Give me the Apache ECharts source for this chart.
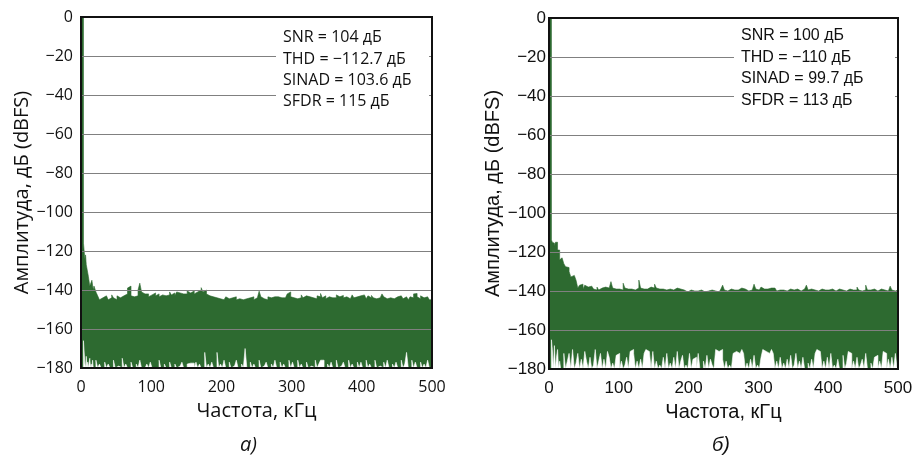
<!DOCTYPE html>
<html><head><meta charset="utf-8">
<script src="https://cdn.jsdelivr.net/npm/echarts@6/dist/echarts.min.js"></script>
<style>html,body{margin:0;padding:0;background:#fff}#c{width:918px;height:460px}</style>
</head><body><div id="c"></div>
<script>
// ---------- data ----------
const yTicks = [0, -20, -40, -60, -80, -100, -120, -140, -160, -180];
const xTicks = [0, 100, 200, 300, 400, 500];
const yName = 'Амплитуда, дБ (dBFS)';
const xName = 'Частота, кГц';
const captions = ['а)', 'б)'];
const notesA = ['SNR = 104 дБ', 'THD = \u2212112.7 дБ', 'SINAD = 103.6 дБ', 'SFDR = 115 дБ'];
const notesB = ['SNR = 100 дБ', 'THD = \u2212110 дБ', 'SINAD = 99.7 дБ', 'SFDR = 113 дБ'];

// chart a) : head region (explicit frequencies, kHz)
const headFA   = [0, 1.5, 3, 4, 5, 6, 7, 8, 9, 10, 11, 12, 13, 14, 15, 16, 17, 18, 19];
const headTopA = [0, 0, 0, -116, -117, -124, -122, -127, -126, -128, -133, -132, -138, -137, -139, -135, -136, -140, -138];
const headBotA = [-180, -180, -180, -166, -166, -178, -180, -174, -180, -177, -180, -180, -175, -180, -178, -180, -176, -180, -179];
// chart a) : noise floor from 20 to 500 kHz, every 2.5 kHz
const floorStartA = 20, floorStepA = 2.5;
const topA = [
-137,-141,-143,-145, -144,-145,-143,-144, -145,-144,-142.5,-144, -145,-143,-144,-144.5,
-143,-144,-142,-139, -138,-143,-143.5,-142.5, -143,-140,-136.5,-141, -142,-143,-142,-143.5,
-142.5,-143,-141.5,-143, -142,-143.5,-142.5,-141.5, -143,-142,-142.5,-141, -142.5,-141.5,-143,-141,
-141.5,-140.5,-142,-141, -142,-140.5,-141.5,-142, -140.5,-142,-141,-141.5, -140,-138.8,-141,-140,
-142,-143,-144,-143.5, -144.5,-144,-145,-144.5, -144,-145,-144.5,-143.5, -144.5,-145,-144,-144.5,
-143.5,-145,-144.5,-144, -145,-144,-144.5,-145, -144,-144.5,-143.5,-145, -144,-143.5,-140.6,-143.5,
-144.5,-144,-145,-143.5, -144,-144.5,-143.5,-144.5, -143.5,-144.5,-144,-143, -144,-143,-142,-141,
-143.5,-144,-143,-144.5, -143.5,-144,-142.5,-144, -143,-144,-143.5,-142.5, -144,-143,-144.5,-143,
-143.5,-141.8,-144,-143, -144.5,-143.5,-142.5,-144, -143,-144,-142.5,-143.5, -144,-142.8,-144,-143.5,
-143,-144.5,-143.5,-142.5, -144,-143.5,-144.5,-143, -144,-142.5,-143.5,-144.5, -143,-144,-142.8,-144,
-144.5,-143.5,-144,-143, -142,-143.5,-144.5,-143.5, -144,-143,-144.5,-144, -143.5,-144.5,-143,-144,
-144.5,-143.5,-144,-145, -143.5,-144,-142,-141.8, -143.5,-144.5,-143,-144, -144.5,-143.5,-144,-145,
-145];
const botA = [
-180,-176,-180,-178, -180,-180,-177,-180, -178,-180,-180,-176, -180,-179,-180,-180,
-175,-180,-178,-180, -180,-177,-180,-180, -178,-180,-176,-180, -180,-180,-178,-180,
-177,-180,-180,-179, -180,-176,-180,-180, -178,-180,-180,-177, -180,-180,-178,-180,
-179,-180,-177,-180, -180,-178,-177.5,-177.5, -177.5,-180,-177,-180, -178,-180,-180,-172,
-180,-178,-180,-177, -180,-180,-172,-180, -178,-180,-176,-180, -180,-177,-180,-179,
-180,-176,-180,-180, -178,-180,-170,-180, -180,-177,-180,-178, -180,-180,-176,-180,
-179,-180,-177,-180, -180,-178,-180,-176, -180,-180,-177,-180, -178,-180,-180,-176,
-180,-177,-180,-180, -176,-180,-178,-180, -180,-177,-180,-179, -180,-180,-176,-180,
-178,-176,-176,-180, -180,-178,-180,-177, -180,-180,-176,-180, -179,-180,-177,-180,
-180,-176,-180,-178, -180,-180,-177,-180, -177,-180,-180,-176, -180,-178,-180,-180,
-176,-180,-179,-180, -180,-177,-180,-176, -180,-180,-178,-180, -177,-180,-180,-176,
-180,-178,-172,-180, -180,-176,-180,-177, -180,-180,-177,-180, -178,-180,-176,-180,
-180];

// chart б) : head region
const headFB   = [0, 1.5, 3, 4, 5.5, 7, 8.5, 10, 11.5, 13, 14.5, 16, 17.5];
const headTopB = [0, 0, 0, -113.8, -115, -115.5, -117, -115, -115, -119, -119, -124, -123];
const headBotB = [-180, -180, -180, -165, -170, -180, -168, -180, -174, -170, -180, -176, -180];
const floorStartB = 20, floorStepB = 2.5;
const topB = [
-124,-126,-127.5,-128, -130,-132.8,-132,-132.5, -134.5,-138.5,-137,-136.5, -139,-137,-138,-138.5,
-137.5,-138.5,-139,-139.5, -138,-139.5,-138.5,-139, -138,-139,-138.5,-137.5, -135.2,-138.5,-139,-138.5,
-139,-138.5,-139.5,-136, -138.5,-139,-139.5,-139, -138.5,-139.5,-139,-138.5, -134.4,-138.5,-139,-138.5,
-139,-138.5,-138,-139, -138.5,-136.5,-138.5,-139, -138,-139,-138.5,-139.5, -138.5,-139,-138,-139.5,
-139,-138.5,-139.5,-139, -140,-139.5,-140,-140.5, -140,-139.5,-140.5,-140, -139.5,-140,-140.5,-139.5,
-140,-140.5,-139.5,-140, -140.5,-139.5,-140,-140, -139.5,-140.5,-140,-139, -137,-139.5,-140,-139.5,
-139,-140,-139.5,-139, -139.5,-140,-138.5,-139.5, -139,-139.5,-140,-139, -139.5,-138.5,-136.5,-139,
-139.5,-138.5,-138,-139, -138.5,-139,-138,-138.5, -139,-138.5,-139.5,-140, -139.5,-140,-139.5,-139,
-140,-139.5,-139,-140, -139.5,-140,-139,-139.5, -140,-139.5,-139,-138.5, -137,-139.5,-139,-140,
-139.5,-139,-140,-139.5, -139,-140,-139.5,-139, -139.5,-140,-139,-139.5, -140,-139.5,-139,-140,
-139.5,-139,-140,-139.5, -139,-140,-139.5,-139, -139.5,-138,-139.5,-140, -139,-139.5,-137,-139.5,
-139.5,-140,-139,-139.5, -140,-139.5,-139,-139.5, -139.5,-139,-140,-139.5, -137.5,-139.5,-140,-139.5,
-139.5];
const botB = [
-180,-172,-180,-176, -172,-180,-170,-180, -177,-172,-180,-175, -180,-171,-176,-180,
-174,-180,-178,-170, -180,-176,-172,-180, -175,-180,-171,-174, -180,-177,-180,-173,
-172,-180,-176,-180, -178,-174,-180,-171, -170,-172,-180,-176, -180,-175,-180,-172,
-170,-171,-172,-180, -171,-180,-176,-180, -178,-180,-174,-180, -172,-180,-177,-180,
-174,-180,-171,-180, -176,-173,-180,-178, -180,-172,-180,-175, -174,-180,-172,-180,
-180,-176,-180,-173, -180,-175,-178,-180, -170,-171,-172,-170, -175,-180,-176,-180,
-178,-180,-172,-171, -170,-172,-171,-170, -172,-180,-177,-180, -175,-180,-173,-180,
-178,-180,-174,-170, -171,-170,-172,-171, -170,-172,-180,-176, -180,-174,-180,-177,
-180,-175,-180,-173, -180,-178,-172,-180, -176,-180,-174,-180, -180,-177,-180,-175,
-180,-172,-170,-171, -170,-180,-176,-180, -174,-180,-172,-180, -178,-180,-175,-180,
-180,-173,-180,-177, -171,-172,-180,-176, -180,-174,-180,-178, -175,-180,-172,-180,
-180,-177,-180,-174, -173,-180,-176,-180, -171,-172,-180,-175, -180,-174,-180,-172,
-180];

// ---------- build (step-shaped table from the arrays) ----------
function build(headF, headV, start, step, vals) {
  const f = headF.slice(), v = headV.slice();
  vals.forEach((val, i) => { f.push(start + i * step); v.push(val); });
  const out = [];
  for (let i = 0; i < f.length; i++) {
    const l = i === 0 ? f[0] : (f[i - 1] + f[i]) / 2;
    const r = i === f.length - 1 ? f[i] : (f[i] + f[i + 1]) / 2;
    out.push([l, v[i]], [r, v[i]]);
  }
  return out;
}
const GREEN = '#2d6a30';
const fontA = '"Open Sans", sans-serif';
const fontB = '"Liberation Sans", Arial, sans-serif';
const fmtY = v => v === 0 ? '0' : '\u2212' + Math.abs(v);

function xAx(i, font, size) {
  return {
    type: 'value', gridIndex: i, min: xTicks[0], max: xTicks[xTicks.length - 1], interval: 100,
    name: xName, nameLocation: 'middle', nameGap: 33,
    nameTextStyle: { fontFamily: font, fontSize: 20, color: '#111' },
    axisLine: { show: false }, axisTick: { show: false }, splitLine: { show: false },
    axisLabel: { fontFamily: font, fontSize: size, color: '#111', margin: 11 }
  };
}
function yAx(i, font, size, gap, margin) {
  return {
    type: 'value', gridIndex: i, min: yTicks[yTicks.length - 1], max: yTicks[0], interval: 20, z: 5,
    name: yName, nameLocation: 'middle', nameGap: gap,
    nameTextStyle: { fontFamily: font, fontSize: 20, color: '#111' },
    axisLine: { show: false }, axisTick: { show: false },
    splitLine: { show: true, lineStyle: { color: '#808080', width: 1 } },
    axisLabel: { fontFamily: font, fontSize: size, color: '#111', margin: margin, formatter: fmtY }
  };
}
function areaSeries(i, data, color, z) {
  return {
    type: 'line', xAxisIndex: i, yAxisIndex: i, data: data,
    symbol: 'none', silent: true, animation: false, z: z,
    lineStyle: { color: color, width: 0.6 },
    areaStyle: { color: color, opacity: 1, origin: 'start' }
  };
}
function notes(lines, x, y, w, h, font, lh) {
  return [
    { type: 'rect', left: x, top: y, z: 100, shape: { width: w, height: h }, style: { fill: '#fff' } },
    { type: 'text', left: x + 7, top: y + 1, z: 101,
      style: { text: lines.join('\n'), font: '16px ' + font, fill: '#111', lineHeight: lh } }
  ];
}

const chart = echarts.init(document.getElementById('c'));
chart.setOption({
  animation: false,
  backgroundColor: '#fff',
  grid: [
    { left: 81, top: 17, width: 351, height: 351, show: true, borderColor: '#111', borderWidth: 2, z: 8 },
    { left: 549, top: 18, width: 349, height: 351, show: true, borderColor: '#111', borderWidth: 2, z: 8 }
  ],
  xAxis: [xAx(0, fontA, 16), xAx(1, fontB, 17)],
  yAxis: [yAx(0, fontA, 16, 47, 8), yAx(1, fontB, 17, 36, 3)],
  series: [
    areaSeries(0, build(headFA, headTopA, floorStartA, floorStepA, topA), GREEN, 2),
    areaSeries(0, build(headFA, headBotA, floorStartA, floorStepA, botA), '#ffffff', 3),
    areaSeries(1, build(headFB, headTopB, floorStartB, floorStepB, topB), GREEN, 2),
    areaSeries(1, build(headFB, headBotB, floorStartB, floorStepB, botB), '#ffffff', 3)
  ],
  graphic: [].concat(
    notes(notesA, 276, 26, 153, 85, fontA, 21.3),
    notes(notesB, 734, 24, 161, 86, fontB, 21.5),
    [
      { type: 'text', left: 240, top: 435, z: 50, style: { text: captions[0], font: 'italic 20px ' + fontA, fill: '#111' } },
      { type: 'text', left: 712, top: 435, z: 50, style: { text: captions[1], font: 'italic 20px ' + fontB, fill: '#111' } }
    ]
  )
});
</script></body></html>
